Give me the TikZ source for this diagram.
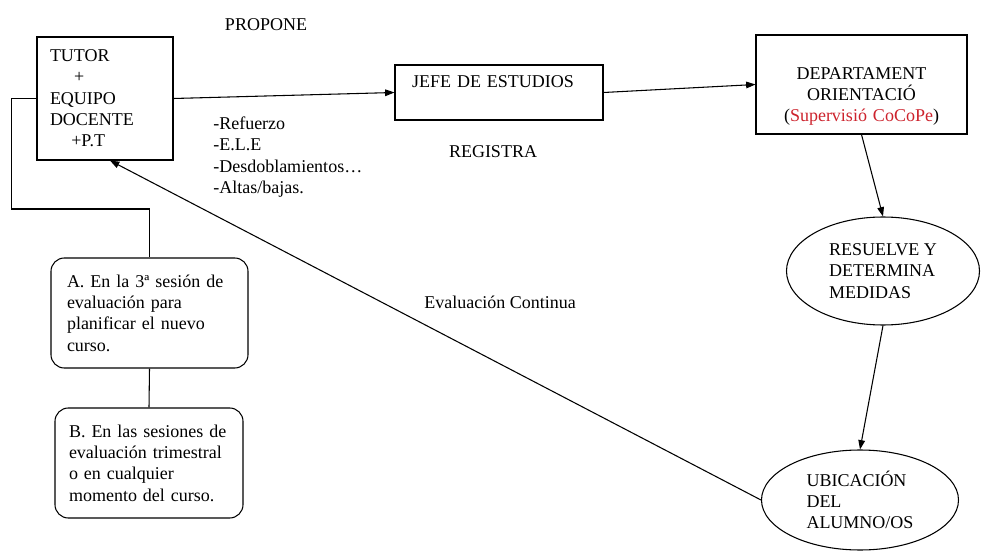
\documentclass[tikz,border=0pt]{standalone}
\usepackage{fontspec}
\setmainfont{Liberation Serif}
\usetikzlibrary{arrows.meta,shapes.geometric}
\definecolor{cocope}{RGB}{205,35,45}
\begin{document}
\begin{tikzpicture}[x=0.75pt,y=-0.75pt,
  font=\fontsize{13.5}{16}\selectfont,
  every node/.style={inner sep=0pt},
  boxnode/.style={draw, line width=0.8pt, rectangle, align=left},
  roundnode/.style={draw, line width=0.8pt, rounded corners=10pt, align=left},
  ellnode/.style={draw, line width=0.8pt, ellipse, align=left, inner sep=0pt},
  link/.style={line width=0.8pt},
  arrowlink/.style={line width=0.8pt, -{Triangle[length=7pt,width=5pt]}}
]
\useasboundingbox (0,0) rectangle (982,552);
\fill[white] (0,0) rectangle (982,552);

% boxes
\node[boxnode, minimum width=102pt, minimum height=92.25pt, text width=82.5pt, inner xsep=9.75pt]
  (tutor) at (105,98.5) {\rule{0pt}{7pt}TUTOR\\\hspace*{18pt}+\\EQUIPO\\DOCENTE\\\hspace*{16pt}+P.T};
\node[boxnode, minimum width=156pt, minimum height=41.25pt, text width=130.5pt, inner xsep=12.75pt]
  (jefe) at (499,92.5) {JEFE DE ESTUDIOS\\\mbox{}};
\node[boxnode, minimum width=158.25pt, minimum height=74.25pt, text width=150.25pt, inner xsep=4pt, align=center]
  (dept) at (861.5,84.5) {\rule{0pt}{27pt}DEPARTAMENT\\ORIENTACIÓ\\(\textcolor{cocope}{Supervisió CoCoPe})};
\node[roundnode, minimum width=147.75pt, minimum height=82.5pt, text width=123.75pt, inner xsep=12pt]
  (evalA) at (149.5,313) {A. En la 3ª sesión de\\evaluación para\\planificar el nuevo\\curso.};
\node[roundnode, minimum width=141pt, minimum height=82.5pt, text width=120pt, inner xsep=10.5pt]
  (evalB) at (149,463) {B. En las sesiones de\\evaluación trimestral\\o en cualquier\\momento del curso.};
\node[ellnode, minimum width=144.75pt, minimum height=81pt]
  (res) at (883,271) {RESUELVE Y\\DETERMINA\\MEDIDAS};
\node[ellnode, minimum width=147.75pt, minimum height=75pt]
  (ubi) at (860,500) {UBICACIÓN\\DEL\\ALUMNO/OS};

% labels
\node (propone) at (266,25) {PROPONE};
\node[align=left, anchor=west] (list) at (213,157) {-Refuerzo\\-E.L.E\\-Desdoblamientos…\\-Altas/bajas.};
\node (registra) at (493,152) {REGISTRA};
\node (evalcont) at (500,302) {Evaluación Continua};

% connectors
\draw[link] (tutor.west) -- ++(-25,0) |- (evalA.north |- 0,209) -- (evalA.north);
\draw[link] (evalA.south) -- (evalB.north);
\draw[arrowlink] (tutor.east) -- (jefe.west);
\draw[arrowlink] (jefe.east) -- (dept.west);
\draw[arrowlink] (dept.south) -- (res.north);
\draw[arrowlink] (res.south) -- (ubi.north);
\draw[arrowlink] (ubi.west) -- ([xshift=3.75pt]tutor.south);
\end{tikzpicture}
\end{document}
